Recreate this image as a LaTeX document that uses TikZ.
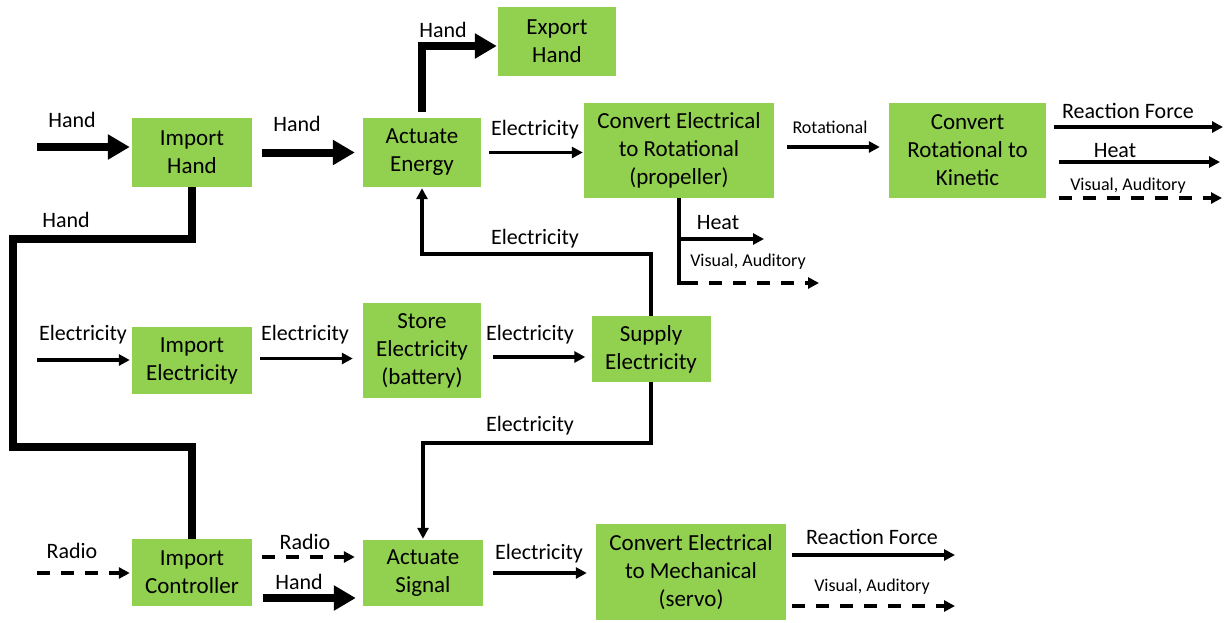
\documentclass[tikz,border=0pt]{standalone}
\usepackage{fontspec}
\setmainfont{Carlito}
\usetikzlibrary{arrows.meta}
\definecolor{boxgreen}{HTML}{92D050}
\tikzset{
  box/.style={fill=boxgreen, draw=none, inner sep=0pt, align=center, font=\fontsize{23}{28}\selectfont},
  lbl/.style={inner sep=0pt, font=\fontsize{22}{26}\selectfont},
  tlbl/.style={inner sep=0pt, font=\fontsize{18}{21}\selectfont},
  thickline/.style={line width=8pt, line join=miter},
  thickarr/.style={line width=8pt, line join=miter, -{Triangle[length=22pt,width=24pt]}},
  thinline/.style={line width=3.2pt, line join=miter},
  thinarr/.style={line width=3.2pt, line join=miter, -{Triangle[length=11pt,width=11pt]}},
  dasharr/.style={line width=3.2pt, dash pattern=on 13pt off 11pt, -{Triangle[length=11pt,width=11pt]}},
}
\begin{document}
\begin{tikzpicture}[x=1pt,y=-1pt]
\useasboundingbox (0,0) rectangle (1224,622);
% boxes
\node[box, minimum width=120pt, minimum height=69pt] (ih) at (192,152.5) {Import\\Hand};
\node[box, minimum width=118pt, minimum height=69pt] (ae) at (422,152.5) {Actuate\\Energy};
\node[box, minimum width=118pt, minimum height=69pt] (eh) at (557,41.5) {Export\\Hand};
\node[box, minimum width=190pt, minimum height=95pt] (cer) at (679,150.5) {Convert Electrical\\to Rotational\\(propeller)};
\node[box, minimum width=157pt, minimum height=95pt] (crk) at (967.5,150.5) {Convert\\Rotational to\\Kinetic};
\node[box, minimum width=120pt, minimum height=67pt] (ie) at (192,360.5) {Import\\Electricity};
\node[box, minimum width=118pt, minimum height=95pt] (se) at (422,350.5) {Store\\Electricity\\(battery)};
\node[box, minimum width=119pt, minimum height=66pt] (sup) at (651,349) {Supply\\Electricity};
\node[box, minimum width=120pt, minimum height=67pt] (ic) at (192,572.5) {Import\\Controller};
\node[box, minimum width=120pt, minimum height=66pt] (as) at (423,573) {Actuate\\Signal};
\node[box, minimum width=190pt, minimum height=96pt] (cem) at (691,572) {Convert Electrical\\to Mechanical\\(servo)};

% free ends / bends
\coordinate (hin) at (37,147);
\coordinate (hl1) at (13,239);
\coordinate (hl2) at (13,447);
\coordinate (ein) at (37,360);
\coordinate (rin) at (37,573);
\coordinate (rf1) at (1223,127);
\coordinate (ht1) at (1220,162);
\coordinate (va1) at (1222,198);
\coordinate (cv) at (679,283);
\coordinate (ch) at (764,239);
\coordinate (cd) at (819,283);
\coordinate (e1) at (651,254);
\coordinate (e2) at (651,443);
\coordinate (rf2) at (955,555);
\coordinate (va2) at (955,606);

% connectors
\draw[thickarr, shorten >=2pt] (hin) -- (hin -| ih.west);
\draw[thickarr, shorten <=10pt, shorten >=8pt] (ih.east) -- (ae.west);
\draw[thickarr, shorten >=1pt] ([yshift=6pt]ae.north) |- ([yshift=-4.5pt]eh.west);
\draw[thickline] (ih.south) |- (hl1) -- (hl2) -| (ic.north);
\draw[thinarr, shorten <=8pt, shorten >=1pt] (ae.east) -- (ae.east -| cer.west);
\draw[thinarr, shorten <=13pt, shorten >=9pt] ([yshift=3.5pt]cer.east) -- ([yshift=3.5pt]cer.east -| crk.west);
\draw[thinarr, shorten <=8pt] (crk.east |- rf1) -- (rf1);
\draw[thinarr, shorten <=13pt] (crk.east |- ht1) -- (ht1);
\draw[dasharr, shorten <=13pt] (crk.east |- va1) -- (va1);
\draw[thinline] (cer.south) -- (cv) -- ++(6,0);
\draw[thinarr] (cer.south |- ch) -- (ch);
\draw[dasharr] ([xshift=6pt]cv) -- (cd);
\draw[thinarr, shorten >=1pt] (sup.north) |- (ae.south |- e1) -- (ae.south);
\draw[thinarr, shorten >=2pt] (ein) -- (ein -| ie.west);
\draw[thinarr, shorten <=8pt, shorten >=10pt] ([yshift=2pt]ie.east) -- ([yshift=2pt]ie.east -| se.west);
\draw[thinarr, shorten <=12pt, shorten >=6pt] ([yshift=-6.5pt]se.east) -- ([yshift=-6.5pt]se.east -| sup.west);
\draw[thinarr, shorten >=1pt] (sup.south) |- (as.north |- e2) -- (as.north);
\draw[dasharr, shorten >=2pt] (rin) -- (rin -| ic.west);
\draw[dasharr, shorten <=10pt, shorten >=8pt] ([yshift=15.5pt]ic.east) -- ([yshift=15.5pt]ic.east -| as.west);
\draw[thickarr, shorten <=11pt, shorten >=7pt] ([yshift=-25.5pt]ic.east) -- ([yshift=-25.5pt]ic.east -| as.west);
\draw[thinarr, shorten <=10pt, shorten >=9pt] (as.east) -- (as.east -| cem.west);
\draw[thinarr, shorten <=6pt] (cem.east |- rf2) -- (rf2);
\draw[dasharr, shorten <=6pt] (cem.east |- va2) -- (va2);

% labels
\node[lbl] (l1) at (72,120) {Hand};
\node[lbl] (l2) at (297,124) {Hand};
\node[lbl] (l3) at (443,30) {Hand};
\node[lbl] (l4) at (66,220) {Hand};
\node[lbl] (l5) at (535,130) {Electricity};
\node[tlbl] (l6) at (830,127) {Rotational};
\node[lbl] (l7) at (1128,111) {Reaction Force};
\node[lbl] (l8) at (1115,151) {Heat};
\node[tlbl] (l9) at (1128,186) {Visual, Auditory};
\node[lbl] (l10) at (718,223) {Heat};
\node[tlbl] (l11) at (748,262) {Visual, Auditory};
\node[lbl] (l12) at (535,239) {Electricity};
\node[lbl] (l13) at (83,335) {Electricity};
\node[lbl] (l14) at (305,335) {Electricity};
\node[lbl] (l15) at (530,335) {Electricity};
\node[lbl] (l16) at (530,426) {Electricity};
\node[lbl] (l17) at (72,551) {Radio};
\node[lbl] (l18) at (305,542) {Radio};
\node[lbl] (l19) at (299,582) {Hand};
\node[lbl] (l20) at (539,554) {Electricity};
\node[lbl] (l21) at (872,537) {Reaction Force};
\node[tlbl] (l22) at (872,587) {Visual, Auditory};
\end{tikzpicture}
\end{document}
